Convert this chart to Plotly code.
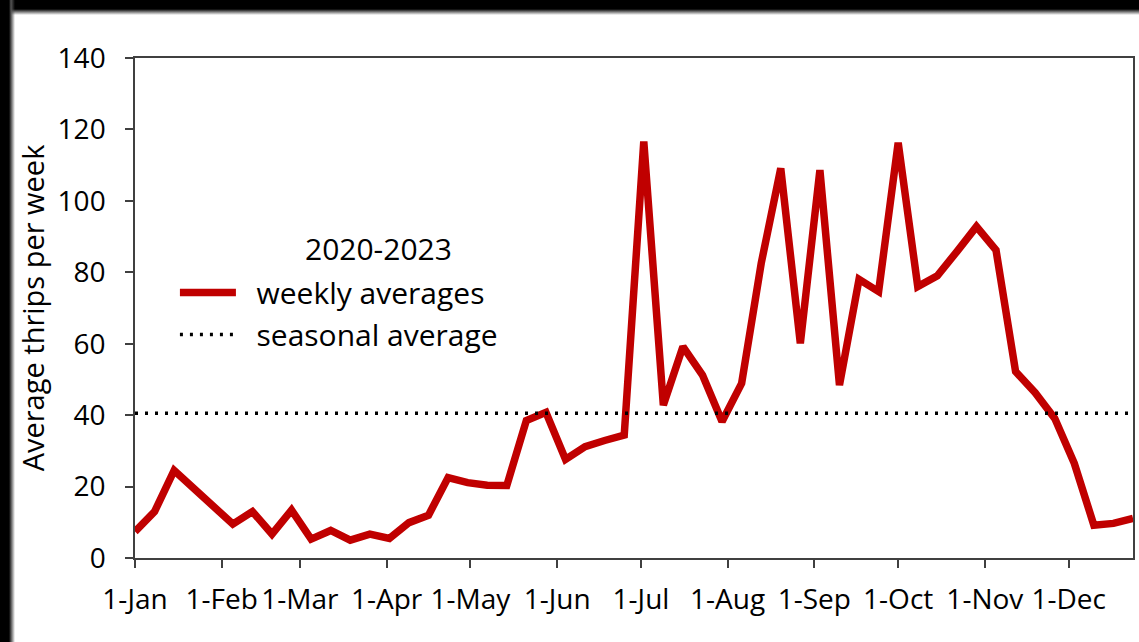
import pandas as pd
import plotly.graph_objects as go

# ---- data ----
week_start = "2023-01-01"
n_weeks = 52
weekly_avg = [7.4, 13.0, 24.5, 19.3, 14.2, 9.5, 13.0, 6.7, 13.4, 5.3,
              7.7, 5.0, 6.7, 5.5, 9.9, 12.0, 22.5, 21.1, 20.4, 20.3,
              38.5, 40.8, 27.6, 31.2, 32.9, 34.4, 116.6, 42.8, 59.2, 51.2,
              38.2, 48.9, 82.5, 109.1, 60.1, 108.6, 48.4, 78.0, 74.6, 116.3,
              76.0, 79.0, 85.8, 92.8, 86.2, 52.2, 46.3, 39.1, 26.5, 9.2,
              9.7, 11.1]
seasonal_avg = 40.5
tick_dates = ["2023-01-01", "2023-02-01", "2023-03-01", "2023-04-01", "2023-05-01",
              "2023-06-01", "2023-07-01", "2023-08-01", "2023-09-01", "2023-10-01",
              "2023-11-01", "2023-12-01"]
tick_text = ["1-Jan", "1-Feb", "1-Mar", "1-Apr", "1-May", "1-Jun", "1-Jul",
             "1-Aug", "1-Sep", "1-Oct", "1-Nov", "1-Dec"]
y_ticks = [0, 20, 40, 60, 80, 100, 120, 140]
legend_title = "2020-2023"
series_name = "weekly averages"
avg_name = "seasonal average"
y_title = "Average thrips per week"

weeks = pd.date_range(week_start, periods=n_weeks, freq="7D")

RED = "#C00000"
AXIS = "#404040"
FONT = "Open Sans"

fig = go.Figure()
fig.add_trace(go.Scatter(
    x=weeks, y=weekly_avg, mode="lines", name="  " + series_name,
    line=dict(color=RED, width=7.5, shape="linear"),
))
fig.add_trace(go.Scatter(
    x=[weeks[0], weeks[-1]], y=[seasonal_avg, seasonal_avg], mode="lines",
    name="  " + avg_name, line=dict(color="black", width=3.5, dash="3px,7px"),
))

# legend heading, centred over the legend texts
fig.add_annotation(
    xref="paper", yref="paper", x=0.244, y=0.62, xanchor="center", yanchor="middle",
    text=legend_title, showarrow=False, font=dict(size=30, family=FONT, color="black"),
)

fig.update_layout(
    width=1139, height=642,
    margin=dict(l=135, r=4, t=58, b=84),
    paper_bgcolor="white", plot_bgcolor="white",
    font=dict(family=FONT, color="black"),
    showlegend=True,
    legend=dict(
        x=0.04, y=0.583, xanchor="left", yanchor="top",
        bgcolor="rgba(0,0,0,0)",
        font=dict(size=30, family=FONT, color="black"),
        itemwidth=56,
    ),
)
fig.update_xaxes(
    range=["2023-01-01", "2023-12-24"],
    tickmode="array", tickvals=tick_dates, ticktext=tick_text,
    ticks="outside", ticklen=8, tickwidth=1.5, tickcolor=AXIS,
    showline=True, linecolor=AXIS, linewidth=1.5, mirror=True,
    showgrid=False, zeroline=False, ticklabelstandoff=8,
    tickfont=dict(size=28, family=FONT, color="black"),
)
fig.update_yaxes(
    range=[0, 140], tickmode="array", tickvals=y_ticks,
    ticks="outside", ticklen=8, tickwidth=1.5, tickcolor=AXIS,
    showline=True, linecolor=AXIS, linewidth=1.5, mirror=True,
    showgrid=False, zeroline=False, ticklabelstandoff=14,
    tickfont=dict(size=28, family=FONT, color="black"),
    title=dict(text=y_title, font=dict(size=29, family=FONT, color="black"), standoff=4),
)

# page setup plus the dark screenshot edges (top and left) as page overlays
page_js = (
    "document.body.style.margin='0';"
    "document.body.style.background='white';"
    "document.documentElement.style.background='white';"
    "document.documentElement.style.overflow='hidden';"
    "var t=document.createElement('div');"
    "t.style.cssText='position:fixed;left:0;top:0;width:100%;height:15px;z-index:10;"
    "pointer-events:none;background:linear-gradient(to bottom,#000 0px,#000 9px,#555 11px,"
    "rgba(255,255,255,0) 15px);';"
    "document.body.appendChild(t);"
    "var l=document.createElement('div');"
    "l.style.cssText='position:fixed;left:0;top:0;width:15px;height:100%;z-index:10;"
    "pointer-events:none;background:linear-gradient(to right,#000 0px,#000 9px,#555 11px,"
    "rgba(255,255,255,0) 15px);';"
    "document.body.appendChild(l);"
)

fig.write_html("out.html", config={"displayModeBar": False}, post_script=page_js)
